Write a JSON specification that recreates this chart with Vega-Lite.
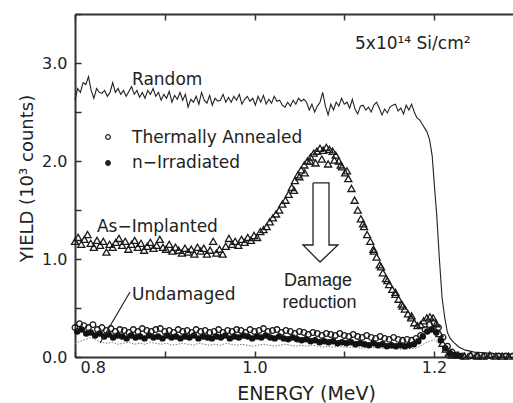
{
  "$schema": "https://vega.github.io/schema/vega-lite/v6.json",
  "width": 438,
  "height": 343,
  "autosize": "none",
  "padding": {"left": 75, "top": 14, "right": 0, "bottom": 46},
  "background": "white",
  "config": {
    "view": {"stroke": null},
    "font": "DejaVu Sans",
    "axis": {"grid": false}
  },
  "datasets": {
    "random": [
      {"E":0.800,"Y":2.62},{"E":0.803,"Y":2.74},{"E":0.806,"Y":2.70},{"E":0.809,"Y":2.80},{"E":0.812,"Y":2.78},{"E":0.815,"Y":2.86},{"E":0.818,"Y":2.72},{"E":0.821,"Y":2.64},{"E":0.824,"Y":2.74},{"E":0.827,"Y":2.70},
      {"E":0.830,"Y":2.69},{"E":0.833,"Y":2.72},{"E":0.836,"Y":2.66},{"E":0.839,"Y":2.70},{"E":0.842,"Y":2.80},{"E":0.845,"Y":2.70},{"E":0.848,"Y":2.74},{"E":0.851,"Y":2.68},{"E":0.854,"Y":2.72},{"E":0.857,"Y":2.66},
      {"E":0.860,"Y":2.71},{"E":0.863,"Y":2.76},{"E":0.866,"Y":2.68},{"E":0.869,"Y":2.72},{"E":0.872,"Y":2.65},{"E":0.875,"Y":2.70},{"E":0.878,"Y":2.64},{"E":0.881,"Y":2.72},{"E":0.884,"Y":2.68},{"E":0.887,"Y":2.74},
      {"E":0.890,"Y":2.66},{"E":0.893,"Y":2.70},{"E":0.896,"Y":2.62},{"E":0.899,"Y":2.68},{"E":0.902,"Y":2.64},{"E":0.905,"Y":2.71},{"E":0.908,"Y":2.60},{"E":0.911,"Y":2.67},{"E":0.914,"Y":2.63},{"E":0.917,"Y":2.70},
      {"E":0.920,"Y":2.62},{"E":0.923,"Y":2.68},{"E":0.926,"Y":2.55},{"E":0.929,"Y":2.63},{"E":0.932,"Y":2.60},{"E":0.935,"Y":2.66},{"E":0.938,"Y":2.58},{"E":0.941,"Y":2.70},{"E":0.944,"Y":2.62},{"E":0.947,"Y":2.59},
      {"E":0.950,"Y":2.67},{"E":0.953,"Y":2.57},{"E":0.956,"Y":2.64},{"E":0.959,"Y":2.61},{"E":0.962,"Y":2.62},{"E":0.965,"Y":2.68},{"E":0.968,"Y":2.60},{"E":0.971,"Y":2.65},{"E":0.974,"Y":2.60},{"E":0.977,"Y":2.66},
      {"E":0.980,"Y":2.62},{"E":0.983,"Y":2.68},{"E":0.986,"Y":2.58},{"E":0.989,"Y":2.63},{"E":0.992,"Y":2.66},{"E":0.995,"Y":2.61},{"E":0.998,"Y":2.64},{"E":1.001,"Y":2.57},{"E":1.004,"Y":2.66},{"E":1.007,"Y":2.60},
      {"E":1.010,"Y":2.67},{"E":1.013,"Y":2.58},{"E":1.016,"Y":2.63},{"E":1.019,"Y":2.59},{"E":1.022,"Y":2.66},{"E":1.025,"Y":2.61},{"E":1.028,"Y":2.62},{"E":1.031,"Y":2.57},{"E":1.034,"Y":2.55},{"E":1.037,"Y":2.60},
      {"E":1.040,"Y":2.56},{"E":1.043,"Y":2.62},{"E":1.046,"Y":2.58},{"E":1.049,"Y":2.64},{"E":1.052,"Y":2.61},{"E":1.055,"Y":2.63},{"E":1.058,"Y":2.60},{"E":1.061,"Y":2.52},{"E":1.064,"Y":2.58},{"E":1.067,"Y":2.50},
      {"E":1.070,"Y":2.56},{"E":1.073,"Y":2.60},{"E":1.076,"Y":2.70},{"E":1.079,"Y":2.56},{"E":1.082,"Y":2.47},{"E":1.085,"Y":2.58},{"E":1.088,"Y":2.52},{"E":1.091,"Y":2.60},{"E":1.094,"Y":2.56},{"E":1.097,"Y":2.64},
      {"E":1.100,"Y":2.58},{"E":1.103,"Y":2.60},{"E":1.106,"Y":2.54},{"E":1.109,"Y":2.63},{"E":1.112,"Y":2.53},{"E":1.115,"Y":2.48},{"E":1.118,"Y":2.56},{"E":1.121,"Y":2.57},{"E":1.124,"Y":2.52},{"E":1.127,"Y":2.55},
      {"E":1.130,"Y":2.50},{"E":1.133,"Y":2.57},{"E":1.136,"Y":2.60},{"E":1.139,"Y":2.54},{"E":1.142,"Y":2.47},{"E":1.145,"Y":2.53},{"E":1.148,"Y":2.49},{"E":1.151,"Y":2.55},{"E":1.154,"Y":2.57},{"E":1.157,"Y":2.58},
      {"E":1.160,"Y":2.51},{"E":1.163,"Y":2.54},{"E":1.166,"Y":2.48},{"E":1.169,"Y":2.57},{"E":1.172,"Y":2.52},{"E":1.175,"Y":2.58},{"E":1.178,"Y":2.50},{"E":1.181,"Y":2.44},{"E":1.184,"Y":2.42},{"E":1.188,"Y":2.36},
      {"E":1.192,"Y":2.30},{"E":1.195,"Y":2.22},{"E":1.198,"Y":2.05},{"E":1.200,"Y":1.80},{"E":1.203,"Y":1.45},{"E":1.206,"Y":1.00},{"E":1.209,"Y":0.60},{"E":1.212,"Y":0.40},{"E":1.215,"Y":0.25},{"E":1.218,"Y":0.19},
      {"E":1.222,"Y":0.15},{"E":1.228,"Y":0.10},{"E":1.235,"Y":0.07},{"E":1.245,"Y":0.05},{"E":1.260,"Y":0.04},{"E":1.275,"Y":0.03},{"E":1.288,"Y":0.03}
    ],
    "implanted": [
      {"E":0.800,"Y":1.18},{"E":0.8035,"Y":1.22},{"E":0.807,"Y":1.15},{"E":0.8105,"Y":1.20},{"E":0.814,"Y":1.25},{"E":0.8175,"Y":1.16},{"E":0.821,"Y":1.12},{"E":0.8245,"Y":1.19},{"E":0.828,"Y":1.14},{"E":0.8315,"Y":1.18},
      {"E":0.835,"Y":1.07},{"E":0.8385,"Y":1.15},{"E":0.842,"Y":1.12},{"E":0.8455,"Y":1.17},{"E":0.849,"Y":1.21},{"E":0.8525,"Y":1.14},{"E":0.856,"Y":1.18},{"E":0.8595,"Y":1.10},{"E":0.863,"Y":1.15},{"E":0.8665,"Y":1.19},
      {"E":0.870,"Y":1.12},{"E":0.8735,"Y":1.16},{"E":0.877,"Y":1.09},{"E":0.8805,"Y":1.13},{"E":0.884,"Y":1.17},{"E":0.8875,"Y":1.11},{"E":0.891,"Y":1.14},{"E":0.8945,"Y":1.20},{"E":0.898,"Y":1.12},{"E":0.9015,"Y":1.10},
      {"E":0.905,"Y":1.15},{"E":0.9085,"Y":1.08},{"E":0.912,"Y":1.12},{"E":0.9155,"Y":1.09},{"E":0.919,"Y":1.06},{"E":0.9225,"Y":1.11},{"E":0.926,"Y":1.07},{"E":0.9295,"Y":1.10},{"E":0.933,"Y":1.05},{"E":0.9365,"Y":1.12},
      {"E":0.940,"Y":1.08},{"E":0.9435,"Y":1.11},{"E":0.947,"Y":1.05},{"E":0.9505,"Y":1.09},{"E":0.954,"Y":1.18},{"E":0.9575,"Y":1.06},{"E":0.961,"Y":1.10},{"E":0.9645,"Y":1.05},{"E":0.968,"Y":1.13},{"E":0.9715,"Y":1.21},
      {"E":0.975,"Y":1.15},{"E":0.9785,"Y":1.18},{"E":0.982,"Y":1.14},{"E":0.9855,"Y":1.20},{"E":0.989,"Y":1.17},{"E":0.9925,"Y":1.22},{"E":0.996,"Y":1.19},{"E":0.9995,"Y":1.24},{"E":1.003,"Y":1.22},{"E":1.0065,"Y":1.28},
      {"E":1.010,"Y":1.30},{"E":1.0135,"Y":1.33},{"E":1.017,"Y":1.38},{"E":1.0205,"Y":1.42},{"E":1.024,"Y":1.46},{"E":1.0275,"Y":1.50},{"E":1.031,"Y":1.56},{"E":1.0345,"Y":1.60},{"E":1.038,"Y":1.66},{"E":1.0415,"Y":1.73},
      {"E":1.045,"Y":1.80},{"E":1.0485,"Y":1.86},{"E":1.052,"Y":1.91},{"E":1.0555,"Y":1.96},{"E":1.059,"Y":2.00},{"E":1.0625,"Y":2.04},{"E":1.066,"Y":2.08},{"E":1.0695,"Y":2.10},{"E":1.073,"Y":2.13},{"E":1.0765,"Y":2.11},
      {"E":1.080,"Y":2.14},{"E":1.0835,"Y":2.12},{"E":1.087,"Y":2.10},{"E":1.0905,"Y":2.06},{"E":1.094,"Y":2.00},{"E":1.0975,"Y":1.94},{"E":1.101,"Y":1.88},{"E":1.1045,"Y":1.82},{"E":1.108,"Y":1.72},{"E":1.1115,"Y":1.60},
      {"E":1.115,"Y":1.50},{"E":1.1185,"Y":1.41},{"E":1.122,"Y":1.33},{"E":1.1255,"Y":1.25},{"E":1.129,"Y":1.18},{"E":1.1325,"Y":1.10},{"E":1.136,"Y":1.02},{"E":1.1395,"Y":0.94},{"E":1.143,"Y":0.86},{"E":1.1465,"Y":0.80},
      {"E":1.150,"Y":0.74},{"E":1.1535,"Y":0.69},{"E":1.157,"Y":0.64},{"E":1.1605,"Y":0.59},{"E":1.164,"Y":0.54},{"E":1.1675,"Y":0.49},{"E":1.171,"Y":0.44},{"E":1.1745,"Y":0.40},{"E":1.178,"Y":0.35},{"E":1.1815,"Y":0.32},
      {"E":1.185,"Y":0.33},{"E":1.1885,"Y":0.37},{"E":1.192,"Y":0.40},{"E":1.1955,"Y":0.41},{"E":1.199,"Y":0.40},{"E":1.2025,"Y":0.34},{"E":1.206,"Y":0.24},{"E":1.2095,"Y":0.14},{"E":1.213,"Y":0.08},{"E":1.2165,"Y":0.04},
      {"E":1.220,"Y":0.02},{"E":1.227,"Y":0.02},{"E":1.234,"Y":0.01},{"E":1.241,"Y":0.02},{"E":1.248,"Y":0.01},{"E":1.255,"Y":0.01},{"E":1.262,"Y":0.02},{"E":1.269,"Y":0.01},{"E":1.276,"Y":0.01},{"E":1.283,"Y":0.01},
      {"E":1.044,"Y":1.70},{"E":1.050,"Y":1.84},{"E":1.056,"Y":1.88},{"E":1.062,"Y":2.00},{"E":1.068,"Y":1.98},{"E":1.075,"Y":2.02},{"E":1.082,"Y":1.97},{"E":1.089,"Y":2.01},{"E":1.096,"Y":1.96},{"E":1.103,"Y":1.90},
      {"E":1.121,"Y":1.36},{"E":1.133,"Y":1.08},{"E":1.141,"Y":0.92},{"E":1.148,"Y":0.78},{"E":1.157,"Y":0.66},{"E":1.165,"Y":0.52},{"E":1.175,"Y":0.42}
    ],
    "annealed": [
      {"E":0.800,"Y":0.30},{"E":0.805,"Y":0.34},{"E":0.810,"Y":0.32},{"E":0.815,"Y":0.30},{"E":0.820,"Y":0.33},{"E":0.825,"Y":0.28},{"E":0.830,"Y":0.30},{"E":0.835,"Y":0.27},{"E":0.840,"Y":0.29},{"E":0.845,"Y":0.26},
      {"E":0.850,"Y":0.28},{"E":0.855,"Y":0.27},{"E":0.860,"Y":0.25},{"E":0.865,"Y":0.28},{"E":0.870,"Y":0.26},{"E":0.875,"Y":0.29},{"E":0.880,"Y":0.27},{"E":0.885,"Y":0.26},{"E":0.890,"Y":0.28},{"E":0.895,"Y":0.29},
      {"E":0.900,"Y":0.26},{"E":0.905,"Y":0.27},{"E":0.910,"Y":0.25},{"E":0.915,"Y":0.28},{"E":0.920,"Y":0.26},{"E":0.925,"Y":0.27},{"E":0.930,"Y":0.25},{"E":0.935,"Y":0.28},{"E":0.940,"Y":0.26},{"E":0.945,"Y":0.27},
      {"E":0.950,"Y":0.25},{"E":0.955,"Y":0.26},{"E":0.960,"Y":0.28},{"E":0.965,"Y":0.25},{"E":0.970,"Y":0.27},{"E":0.975,"Y":0.26},{"E":0.980,"Y":0.28},{"E":0.985,"Y":0.27},{"E":0.990,"Y":0.25},{"E":0.995,"Y":0.28},
      {"E":1.000,"Y":0.26},{"E":1.005,"Y":0.27},{"E":1.010,"Y":0.29},{"E":1.015,"Y":0.26},{"E":1.020,"Y":0.27},{"E":1.025,"Y":0.28},{"E":1.030,"Y":0.25},{"E":1.035,"Y":0.27},{"E":1.040,"Y":0.26},{"E":1.045,"Y":0.24},
      {"E":1.050,"Y":0.26},{"E":1.055,"Y":0.25},{"E":1.060,"Y":0.23},{"E":1.065,"Y":0.25},{"E":1.070,"Y":0.24},{"E":1.075,"Y":0.22},{"E":1.080,"Y":0.24},{"E":1.085,"Y":0.23},{"E":1.090,"Y":0.22},{"E":1.095,"Y":0.24},
      {"E":1.100,"Y":0.22},{"E":1.105,"Y":0.21},{"E":1.110,"Y":0.23},{"E":1.115,"Y":0.21},{"E":1.120,"Y":0.20},{"E":1.125,"Y":0.22},{"E":1.130,"Y":0.20},{"E":1.135,"Y":0.19},{"E":1.140,"Y":0.21},{"E":1.145,"Y":0.19},
      {"E":1.150,"Y":0.18},{"E":1.155,"Y":0.20},{"E":1.160,"Y":0.18},{"E":1.165,"Y":0.17},{"E":1.170,"Y":0.18},{"E":1.175,"Y":0.17},{"E":1.180,"Y":0.19},{"E":1.185,"Y":0.22},{"E":1.190,"Y":0.28},{"E":1.195,"Y":0.33},
      {"E":1.200,"Y":0.35},{"E":1.205,"Y":0.30},{"E":1.210,"Y":0.20},{"E":1.215,"Y":0.11},{"E":1.220,"Y":0.05},{"E":1.225,"Y":0.02},{"E":1.232,"Y":0.01},{"E":1.240,"Y":0.01},{"E":1.248,"Y":0.01},{"E":1.256,"Y":0.01},
      {"E":1.264,"Y":0.01},{"E":1.272,"Y":0.01},{"E":1.280,"Y":0.01},{"E":1.288,"Y":0.01}
    ],
    "irradiated": [
      {"E":0.8025,"Y":0.26},{"E":0.8075,"Y":0.28},{"E":0.8125,"Y":0.24},{"E":0.8175,"Y":0.25},{"E":0.8225,"Y":0.22},{"E":0.8275,"Y":0.24},{"E":0.8325,"Y":0.21},{"E":0.8375,"Y":0.23},{"E":0.8425,"Y":0.20},{"E":0.8475,"Y":0.22},
      {"E":0.8525,"Y":0.21},{"E":0.8575,"Y":0.19},{"E":0.8625,"Y":0.22},{"E":0.8675,"Y":0.20},{"E":0.8725,"Y":0.21},{"E":0.8775,"Y":0.19},{"E":0.8825,"Y":0.22},{"E":0.8875,"Y":0.20},{"E":0.8925,"Y":0.21},{"E":0.8975,"Y":0.19},
      {"E":0.9025,"Y":0.22},{"E":0.9075,"Y":0.20},{"E":0.9125,"Y":0.21},{"E":0.9175,"Y":0.19},{"E":0.9225,"Y":0.21},{"E":0.9275,"Y":0.20},{"E":0.9325,"Y":0.22},{"E":0.9375,"Y":0.19},{"E":0.9425,"Y":0.21},{"E":0.9475,"Y":0.20},
      {"E":0.9525,"Y":0.19},{"E":0.9575,"Y":0.21},{"E":0.9625,"Y":0.20},{"E":0.9675,"Y":0.22},{"E":0.9725,"Y":0.19},{"E":0.9775,"Y":0.21},{"E":0.9825,"Y":0.20},{"E":0.9875,"Y":0.22},{"E":0.9925,"Y":0.21},{"E":0.9975,"Y":0.19},
      {"E":1.0025,"Y":0.21},{"E":1.0075,"Y":0.20},{"E":1.0125,"Y":0.22},{"E":1.0175,"Y":0.20},{"E":1.0225,"Y":0.19},{"E":1.0275,"Y":0.21},{"E":1.0325,"Y":0.19},{"E":1.0375,"Y":0.18},{"E":1.0425,"Y":0.20},{"E":1.0475,"Y":0.18},
      {"E":1.0525,"Y":0.17},{"E":1.0575,"Y":0.18},{"E":1.0625,"Y":0.16},{"E":1.0675,"Y":0.17},{"E":1.0725,"Y":0.15},{"E":1.0775,"Y":0.16},{"E":1.0825,"Y":0.15},{"E":1.0875,"Y":0.16},{"E":1.0925,"Y":0.14},{"E":1.0975,"Y":0.15},
      {"E":1.1025,"Y":0.14},{"E":1.1075,"Y":0.15},{"E":1.1125,"Y":0.13},{"E":1.1175,"Y":0.14},{"E":1.1225,"Y":0.13},{"E":1.1275,"Y":0.12},{"E":1.1325,"Y":0.14},{"E":1.1375,"Y":0.12},{"E":1.1425,"Y":0.13},{"E":1.1475,"Y":0.11},
      {"E":1.1525,"Y":0.12},{"E":1.1575,"Y":0.11},{"E":1.1625,"Y":0.12},{"E":1.1675,"Y":0.11},{"E":1.1725,"Y":0.12},{"E":1.1775,"Y":0.13},{"E":1.1825,"Y":0.16},{"E":1.1875,"Y":0.21},{"E":1.1925,"Y":0.26},{"E":1.1975,"Y":0.28},
      {"E":1.2025,"Y":0.25},{"E":1.2075,"Y":0.17},{"E":1.2125,"Y":0.09},{"E":1.2175,"Y":0.04},{"E":1.2225,"Y":0.02},{"E":1.229,"Y":0.01}
    ],
    "undamaged": [
      {"E":0.800,"Y":0.14},{"E":0.806,"Y":0.16},{"E":0.812,"Y":0.18},{"E":0.818,"Y":0.20},{"E":0.824,"Y":0.17},{"E":0.830,"Y":0.15},{"E":0.836,"Y":0.14},{"E":0.842,"Y":0.15},{"E":0.848,"Y":0.13},{"E":0.854,"Y":0.14},
      {"E":0.860,"Y":0.15},{"E":0.866,"Y":0.13},{"E":0.872,"Y":0.14},{"E":0.878,"Y":0.13},{"E":0.884,"Y":0.15},{"E":0.890,"Y":0.14},{"E":0.896,"Y":0.13},{"E":0.902,"Y":0.14},{"E":0.908,"Y":0.12},{"E":0.914,"Y":0.13},
      {"E":0.920,"Y":0.14},{"E":0.926,"Y":0.13},{"E":0.932,"Y":0.12},{"E":0.938,"Y":0.14},{"E":0.944,"Y":0.13},{"E":0.950,"Y":0.12},{"E":0.956,"Y":0.13},{"E":0.962,"Y":0.12},{"E":0.968,"Y":0.14},{"E":0.974,"Y":0.13},
      {"E":0.980,"Y":0.12},{"E":0.986,"Y":0.13},{"E":0.992,"Y":0.12},{"E":0.998,"Y":0.11},{"E":1.004,"Y":0.12},{"E":1.010,"Y":0.13},{"E":1.016,"Y":0.12},{"E":1.022,"Y":0.11},{"E":1.028,"Y":0.12},{"E":1.034,"Y":0.13},
      {"E":1.040,"Y":0.12},{"E":1.046,"Y":0.11},{"E":1.052,"Y":0.12},{"E":1.058,"Y":0.11},{"E":1.064,"Y":0.12},{"E":1.070,"Y":0.11},{"E":1.076,"Y":0.10},{"E":1.082,"Y":0.11},{"E":1.088,"Y":0.10},{"E":1.094,"Y":0.11},
      {"E":1.100,"Y":0.10},{"E":1.110,"Y":0.10},{"E":1.120,"Y":0.09},{"E":1.130,"Y":0.10},{"E":1.140,"Y":0.09},{"E":1.150,"Y":0.09},{"E":1.160,"Y":0.08},{"E":1.170,"Y":0.08},{"E":1.180,"Y":0.09},{"E":1.190,"Y":0.14},
      {"E":1.200,"Y":0.18},{"E":1.210,"Y":0.10},{"E":1.220,"Y":0.03},{"E":1.230,"Y":0.01},{"E":1.288,"Y":0.01}
    ],
    "arrow": [
      {"i":0,"E":1.0652,"Y":1.776},{"i":1,"E":1.083,"Y":1.776},{"i":2,"E":1.083,"Y":1.143},{"i":3,"E":1.093,"Y":1.143},
      {"i":4,"E":1.073,"Y":0.969},{"i":5,"E":1.054,"Y":1.143},{"i":6,"E":1.0652,"Y":1.143},{"i":7,"E":1.0652,"Y":1.776}
    ],
    "legend": [
      {"E":0.8368,"Y":2.245,"kind":"Thermally Annealed"},
      {"E":0.8368,"Y":1.98,"kind":"n−Irradiated"}
    ],
    "labels": [
      {"E":0.8635,"Y":2.776,"text":"Random"},
      {"E":0.8245,"Y":1.276,"text":"As−Implanted"},
      {"E":0.8635,"Y":0.582,"text":"Undamaged"},
      {"E":0.8635,"Y":2.184,"text":"Thermally Annealed"},
      {"E":0.8635,"Y":1.929,"text":"n−Irradiated"},
      {"E":1.112,"Y":3.14,"text":"5x10¹⁴ Si/cm²"}
    ],
    "damage": [
      {"E":1.0708,"Y":0.724,"text":"Damage"},
      {"E":1.0725,"Y":0.50,"text":"reduction"}
    ],
    "leader": [
      {"E":0.8613,"Y":0.663,"E2":0.8279,"Y2":0.143}
    ]
  },
  "resolve": {"axis": {"x": "independent", "y": "independent"}},
  "layer": [
    {
      "data": {"name": "undamaged"},
      "mark": {"type": "line", "color": "#777", "strokeWidth": 1, "strokeDash": [1.5, 1.5]},
      "encoding": {
        "x": {"field": "E", "type": "quantitative", "scale": {"domain": [0.8, 1.288], "nice": false, "zero": false},
          "axis": {"orient": "bottom", "values": [0.8, 0.9, 1.0, 1.1, 1.2], "tickSize": -6, "tickWidth": 1.5, "tickColor": "#333",
            "domainColor": "#333", "domainWidth": 2, "labelFont": "DejaVu Sans", "labelFontSize": 16, "labelColor": "#222",
            "labelPadding": 8, "labelFlush": true, "labelFlushOffset": -5,
            "labelExpr": "round(datum.value*10) % 2 == 0 ? format(datum.value, '.1f') : ''",
            "title": "ENERGY  (MeV)", "titleFont": "DejaVu Sans", "titleFontSize": 19, "titleFontWeight": "normal", "titleColor": "#222",
            "titleX": 231, "titleY": 42, "titleBaseline": "alphabetic", "titleAlign": "center", "titleAnchor": null}},
        "y": {"field": "Y", "type": "quantitative", "scale": {"domain": [0, 3.5], "nice": false},
          "axis": {"orient": "left", "values": [0, 0.5, 1, 1.5, 2, 2.5, 3, 3.5], "tickSize": -6, "tickWidth": 1.5, "tickColor": "#333",
            "domainColor": "#333", "domainWidth": 2, "labelFont": "DejaVu Sans", "labelFontSize": 16, "labelColor": "#222",
            "labelPadding": 14, "labelFlush": false, "labelExpr": "datum.value % 1 == 0 && datum.value < 3.4 ? format(datum.value, '.1f') : ''",
            "title": "YIELD (10³ counts)", "titleFont": "DejaVu Sans", "titleFontSize": 18, "titleFontWeight": "normal", "titleColor": "#222",
            "titleAngle": -90, "titleX": -43, "titleY": 164, "titleBaseline": "alphabetic", "titleAlign": "center", "titleAnchor": null}}
      }
    },
    {
      "data": {"name": "random"},
      "mark": {"type": "line", "color": "#222", "strokeWidth": 1.1},
      "encoding": {
        "x": {"field": "E", "type": "quantitative",
          "axis": {"orient": "top", "values": [0.8, 0.9, 1.0, 1.1, 1.2], "tickSize": -6, "tickWidth": 1.5, "tickColor": "#333",
            "domainColor": "#333", "domainWidth": 2, "labels": false, "title": null}},
        "y": {"field": "Y", "type": "quantitative", "axis": null}
      }
    },
    {
      "data": {"name": "irradiated"},
      "mark": {"type": "point", "filled": true, "color": "#111", "size": 42, "opacity": 1},
      "encoding": {
        "x": {"field": "E", "type": "quantitative", "axis": null},
        "y": {"field": "Y", "type": "quantitative", "axis": null}
      }
    },
    {
      "data": {"name": "annealed"},
      "mark": {"type": "point", "filled": false, "color": "#1a1a1a", "size": 32, "strokeWidth": 1.3, "opacity": 1},
      "encoding": {
        "x": {"field": "E", "type": "quantitative", "axis": null},
        "y": {"field": "Y", "type": "quantitative", "axis": null}
      }
    },
    {
      "data": {"name": "implanted"},
      "mark": {"type": "point", "shape": "triangle-up", "filled": false, "color": "#1a1a1a", "size": 50, "strokeWidth": 1.3, "opacity": 1},
      "encoding": {
        "x": {"field": "E", "type": "quantitative", "axis": null},
        "y": {"field": "Y", "type": "quantitative", "axis": null}
      }
    },
    {
      "data": {"name": "arrow"},
      "mark": {"type": "line", "color": "#222", "strokeWidth": 1.3},
      "encoding": {
        "x": {"field": "E", "type": "quantitative", "axis": null},
        "y": {"field": "Y", "type": "quantitative", "axis": null},
        "order": {"field": "i", "type": "quantitative"}
      }
    },
    {
      "data": {"name": "leader"},
      "mark": {"type": "rule", "color": "#222", "strokeWidth": 1.2},
      "encoding": {
        "x": {"field": "E", "type": "quantitative", "axis": null},
        "y": {"field": "Y", "type": "quantitative", "axis": null},
        "x2": {"field": "E2"},
        "y2": {"field": "Y2"}
      }
    },
    {
      "data": {"name": "legend"},
      "mark": {"type": "point", "color": "#222", "size": 22, "strokeWidth": 1.2, "opacity": 1},
      "encoding": {
        "x": {"field": "E", "type": "quantitative", "axis": null},
        "y": {"field": "Y", "type": "quantitative", "axis": null},
        "fill": {"field": "kind", "type": "nominal", "scale": {"domain": ["Thermally Annealed", "n−Irradiated"], "range": ["white", "#222"]}, "legend": null}
      }
    },
    {
      "data": {"name": "labels"},
      "mark": {"type": "text", "align": "left", "baseline": "alphabetic", "font": "DejaVu Sans", "fontSize": 17, "color": "#222"},
      "encoding": {
        "x": {"field": "E", "type": "quantitative", "axis": null},
        "y": {"field": "Y", "type": "quantitative", "axis": null},
        "text": {"field": "text"}
      }
    },
    {
      "data": {"name": "damage"},
      "mark": {"type": "text", "align": "center", "baseline": "alphabetic", "font": "Liberation Sans", "fontSize": 18, "color": "#222"},
      "encoding": {
        "x": {"field": "E", "type": "quantitative", "axis": null},
        "y": {"field": "Y", "type": "quantitative", "axis": null},
        "text": {"field": "text"}
      }
    }
  ]
}
